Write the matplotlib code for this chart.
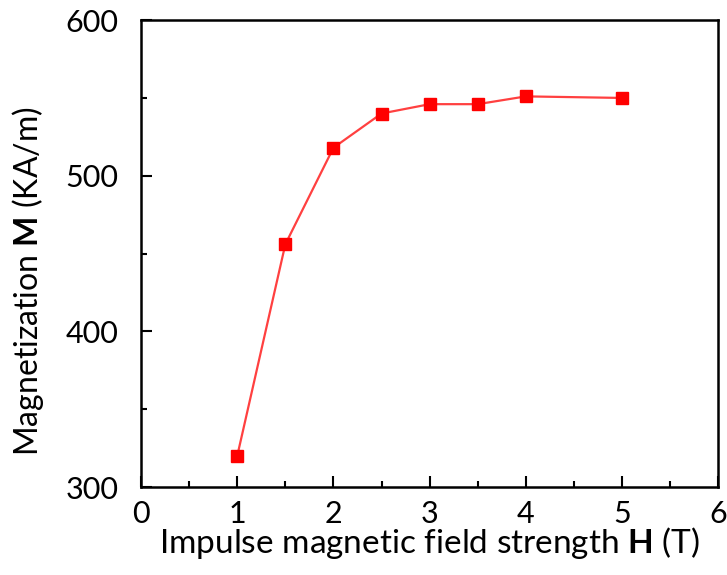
import matplotlib
matplotlib.use('Agg')
import matplotlib.pyplot as plt
from matplotlib.ticker import MultipleLocator

# impulse field strength (T) vs magnetization (KA/m)
field_T = [1, 1.5, 2, 2.5, 3, 3.5, 4, 5]
magnetization = [320, 456, 518, 540, 546, 546, 551, 550]

plt.rcParams['font.family'] = ['Lato', 'DejaVu Sans']
plt.rcParams['mathtext.fontset'] = 'custom'
plt.rcParams['mathtext.rm'] = 'Lato'
plt.rcParams['mathtext.bf'] = 'Lato:bold'

fig = plt.figure(figsize=(7.27, 5.75), dpi=100)
ax = fig.add_axes([0.194, 0.153, 0.794, 0.812])

ax.plot(field_T, magnetization, color='#ff4040', lw=1.6, zorder=2)
ax.plot(field_T, magnetization, ls='none', marker='s', ms=8.5, color='#ff0000', zorder=3)

ax.set_xlim(0, 6)
ax.set_ylim(300, 600)
ax.xaxis.set_major_locator(MultipleLocator(1))
ax.xaxis.set_minor_locator(MultipleLocator(0.5))
ax.yaxis.set_major_locator(MultipleLocator(100))
ax.yaxis.set_minor_locator(MultipleLocator(50))
ax.tick_params(which='both', direction='in', top=False, right=False, width=1.5, labelsize=22)
ax.tick_params(which='major', length=8)
ax.tick_params(which='minor', length=4)
ax.tick_params(axis='y', which='major', pad=16)
ax.tick_params(axis='x', which='major', pad=9)
for s in ax.spines.values():
    s.set_linewidth(1.8)

ax.set_xlabel(r'Impulse magnetic field strength $\mathbf{H}$ (T)', fontsize=24, labelpad=-2)
ax.set_ylabel(r'Magnetization $\mathbf{M}$ (KA/m)', fontsize=23)
ax.yaxis.set_label_coords(-0.165, 0.44)

fig.savefig('out.png', dpi=100)
